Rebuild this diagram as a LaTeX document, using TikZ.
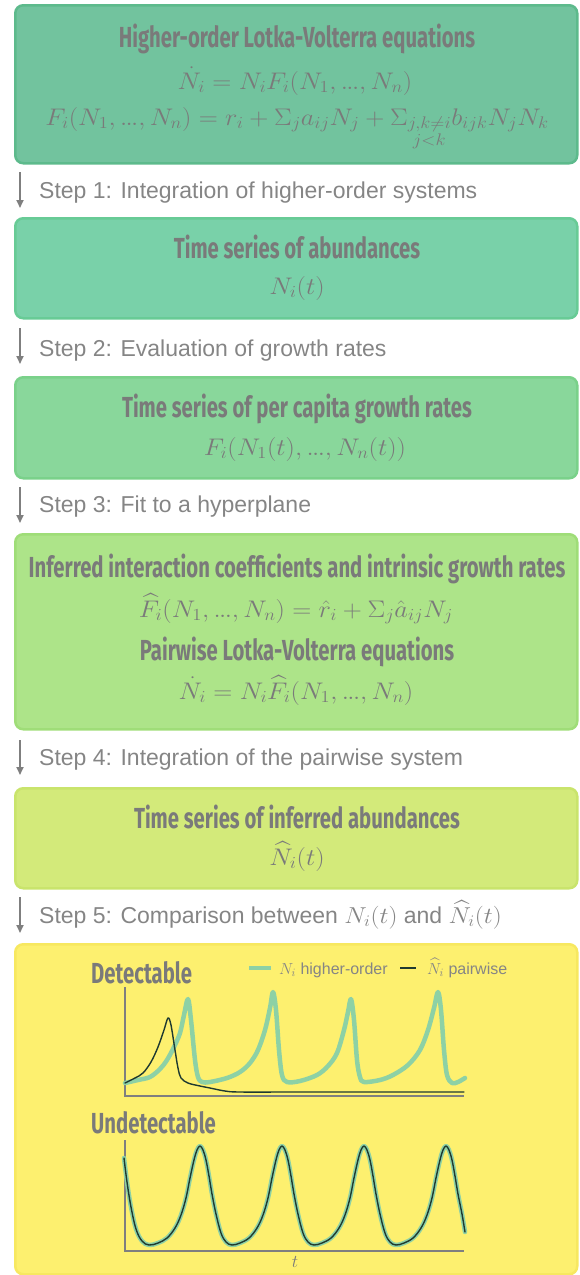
\RequirePackage{fix-cm}
\documentclass[tikz,border=0pt]{standalone}
\usepackage{amsmath}
\usepackage{graphicx}
\usepackage{fontspec}
\setmainfont{Liberation Sans}
\newfontfamily\ttlfont[FakeStretch=0.70]{Fira Sans}
\usetikzlibrary{arrows.meta}
\definecolor{tgray}{HTML}{7A7A7A}
\definecolor{sgray}{HTML}{858585}
\definecolor{agray}{HTML}{7F7F7F}
\definecolor{fa}{HTML}{72C39E}\definecolor{da}{HTML}{5DBA8C}
\definecolor{fb}{HTML}{79D1A9}\definecolor{db}{HTML}{68CB96}
\definecolor{fc}{HTML}{89D79B}\definecolor{dc}{HTML}{7AD18A}
\definecolor{fd}{HTML}{ADE489}\definecolor{dd}{HTML}{9FDD78}
\definecolor{fe}{HTML}{D3EA7A}\definecolor{de}{HTML}{C9E46C}
\definecolor{ff}{HTML}{FDF06F}\definecolor{dff}{HTML}{F7E860}
\definecolor{hgreen}{HTML}{8DD1A5}
\definecolor{pdark}{HTML}{1F3A30}
\newcommand{\meq}[1]{\scalebox{1.10}[1]{$#1$}}
\newcommand{\eld}{{,}\mkern3mu\mathord{.\kern-0.06em.\kern-0.06em.}{,}\mkern3mu}
\begin{document}
\begin{tikzpicture}[x=1pt,y=-1pt,
  boxstyle/.style={draw, line width=2.5pt, rounded corners=8pt, anchor=north west, inner sep=0pt},
  ttl/.style={font=\ttlfont\bfseries\fontsize{29}{31}\selectfont, text=tgray, inner sep=0pt, anchor=base},
  eqn/.style={font=\fontsize{24}{27}\selectfont, text=tgray, inner sep=0pt, anchor=base},
  steptext/.style={font=\fontsize{23}{25}\selectfont, text=sgray, inner sep=0pt, anchor=base west},
  arr/.style={draw=agray, line width=1.8pt, -{Triangle[length=8pt,width=7pt]}},
  axis/.style={draw=agray, line width=1.5pt},
  hline/.style={draw=hgreen, line width=4.5pt, line cap=round, line join=round},
  pline/.style={draw=pdark, line width=1.4pt, line cap=round, line join=round},
  lgd/.style={font=\fontsize{16}{18}\selectfont, text=sgray, inner sep=0pt, anchor=base west}
]
\useasboundingbox (0,0) rectangle (580,1275);

% boxes
\node[boxstyle, draw=da, fill=fa, minimum width=562pt, minimum height=158pt] (b1) at (14,4) {};
\node[boxstyle, draw=db, fill=fb, minimum width=562pt, minimum height=100pt] (b2) at (14,217) {};
\node[boxstyle, draw=dc, fill=fc, minimum width=562pt, minimum height=101pt] (b3) at (14,376) {};
\node[boxstyle, draw=dd, fill=fd, minimum width=562pt, minimum height=195pt] (b4) at (14,533) {};
\node[boxstyle, draw=de, fill=fe, minimum width=562pt, minimum height=100pt] (b5) at (14,787) {};
\node[boxstyle, draw=dff, fill=ff, minimum width=562pt, minimum height=330pt] (b6) at (14,943) {};

% box 1
\node[ttl] (t1) at (297,47) {Higher-order Lotka-Volterra equations};
\node[eqn] (e1a) at (295,89) {\meq{\dot N_i = N_i F_i(N_1\eld N_n)}};
\node[eqn] (e1b) at (297,125) {\meq{F_i(N_1\eld N_n) = r_i + \Sigma_j a_{ij}N_j + \Sigma_{\substack{j,k\neq i\\ j<k}} b_{ijk}N_jN_k}};

% box 2
\node[ttl] (t2) at (297,258) {Time series of abundances};
\node[eqn] (e2) at (297,294) {\meq{N_i(t)}};

% box 3
\node[ttl] (t3) at (297,417) {Time series of per capita growth rates};
\node[eqn] (e3) at (305,455) {\meq{F_i(N_1(t)\eld N_n(t))}};

% box 4
\node[ttl] (t4) at (297,577) {Inferred interaction coefficients and intrinsic growth rates};
\node[eqn] (e4a) at (296,617) {\meq{\widehat{F}_i(N_1\eld N_n) = \hat r_i + \Sigma_j \hat a_{ij}N_j}};
\node[ttl] (t4b) at (297,660) {Pairwise Lotka-Volterra equations};
\node[eqn] (e4b) at (296,699) {\meq{\dot N_i = N_i\widehat{F}_i(N_1\eld N_n)}};

% box 5
\node[ttl] (t5) at (297,828) {Time series of inferred abundances};
\node[eqn] (e5) at (297,865) {\meq{\widehat{N}_i(t)}};

% steps
\coordinate (s1a) at (20,172); \coordinate (s1b) at (20,208);
\coordinate (s2a) at (20,328); \coordinate (s2b) at (20,364);
\coordinate (s3a) at (20,487); \coordinate (s3b) at (20,523);
\coordinate (s4a) at (20,740); \coordinate (s4b) at (20,775);
\coordinate (s5a) at (20,897); \coordinate (s5b) at (20,933);
\draw[arr] (s1a) -- (s1b);
\draw[arr] (s2a) -- (s2b);
\draw[arr] (s3a) -- (s3b);
\draw[arr] (s4a) -- (s4b);
\draw[arr] (s5a) -- (s5b);
\node[steptext] (l1) at (39,198) {Step 1: Integration of higher-order systems};
\node[steptext] (l2) at (39,356) {Step 2: Evaluation of growth rates};
\node[steptext] (l3) at (39,512) {Step 3: Fit to a hyperplane};
\node[steptext] (l4) at (39,765) {Step 4: Integration of the pairwise system};
\node[steptext] (l5) at (39,923) {Step 5: Comparison between \meq{N_i(t)} and \meq{\widehat{N}_i(t)}};

% plot 1
\node[ttl, anchor=base west] (det) at (91,983) {Detectable};
\coordinate (lg1a) at (249,968); \coordinate (lg1b) at (271,968);
\draw[hline, line cap=butt] (lg1a) -- (lg1b);
\node[lgd] (lg1t) at (279,974) {$N_i$ higher-order};
\coordinate (lg2a) at (400,968); \coordinate (lg2b) at (416,968);
\draw[pdark, line width=1.4pt] (lg2a) -- (lg2b);
\node[lgd] (lg2t) at (427,974) {$\widehat{N}_i$ pairwise};

\coordinate (o1) at (125,1096); \coordinate (y1) at (125,987); \coordinate (x1) at (464,1096);
\draw[axis] (y1) -- (o1) -- (x1);
\draw[hline] plot[smooth, tension=0.55] coordinates {
(125,1083) (138,1080) (150,1077) (160,1069) (167,1060) (174,1047) (180,1033) (184,1015) (188,999) (191,1020) (195,1060) (198,1077) (202,1082) (210,1082) (227,1078) (240,1072) (250,1063) (258,1050) (265,1030) (270,1008) (273,992) (276,1010) (279,1050) (282,1075) (287,1082) (300,1081) (317,1075) (328,1066) (337,1053) (344,1030) (348,1012) (351,999) (354,1020) (357,1060) (360,1077) (364,1082) (380,1080) (393,1075) (408,1065) (420,1050) (428,1030) (434,1008) (438,992) (441,1010) (444,1050) (447,1075) (452,1083) (458,1082) (465,1078)};
\draw[pline] plot[smooth, tension=0.55] coordinates {
(125,1083) (135,1078) (143,1073) (151,1062) (158,1047) (164,1030) (168,1018) (171,1025) (175,1050) (178,1068) (181,1078) (188,1083) (200,1086) (210,1088) (225,1091) (240,1092) (300,1092) (464,1092)};

% plot 2
\node[ttl, anchor=base west] (und) at (91,1133) {Undetectable};
\coordinate (o2) at (125,1251); \coordinate (y2) at (125,1140); \coordinate (x2) at (464,1251);
\draw[axis] (y2) -- (o2) -- (x2);
\node[font=\fontsize{18}{20}\selectfont, text=tgray, inner sep=0pt] (tl) at (295,1262) {$t$};
\foreach \st in {hline, pline}{
\draw[\st] plot[smooth, tension=0.6] coordinates {
(124,1158) (127,1182) (131,1207) (136,1229) (142,1241) (149,1245)
(158,1243) (167,1238) (175,1228) (181,1215) (186,1198) (190,1178) (194,1160) (197,1150) (200,1146) (203,1150) (206,1160) (209,1176) (212,1194) (216,1214) (221,1233) (226,1242) (232,1245)
(240,1243) (249,1238) (257,1228) (263,1215) (268,1198) (272,1178) (276,1160) (279,1150) (282,1146) (285,1150) (288,1160) (291,1176) (294,1194) (298,1214) (303,1233) (308,1242) (314,1245)
(322,1243) (331,1238) (339,1228) (345,1215) (350,1198) (354,1178) (358,1160) (361,1150) (364,1146) (367,1150) (370,1160) (373,1176) (376,1194) (380,1214) (385,1233) (390,1242) (396,1245)
(404,1243) (413,1238) (421,1228) (427,1215) (432,1198) (436,1178) (440,1160) (443,1150) (446,1146) (449,1150) (452,1160) (455,1176) (458,1194) (462,1214) (465,1232)};
}
\end{tikzpicture}
\end{document}
